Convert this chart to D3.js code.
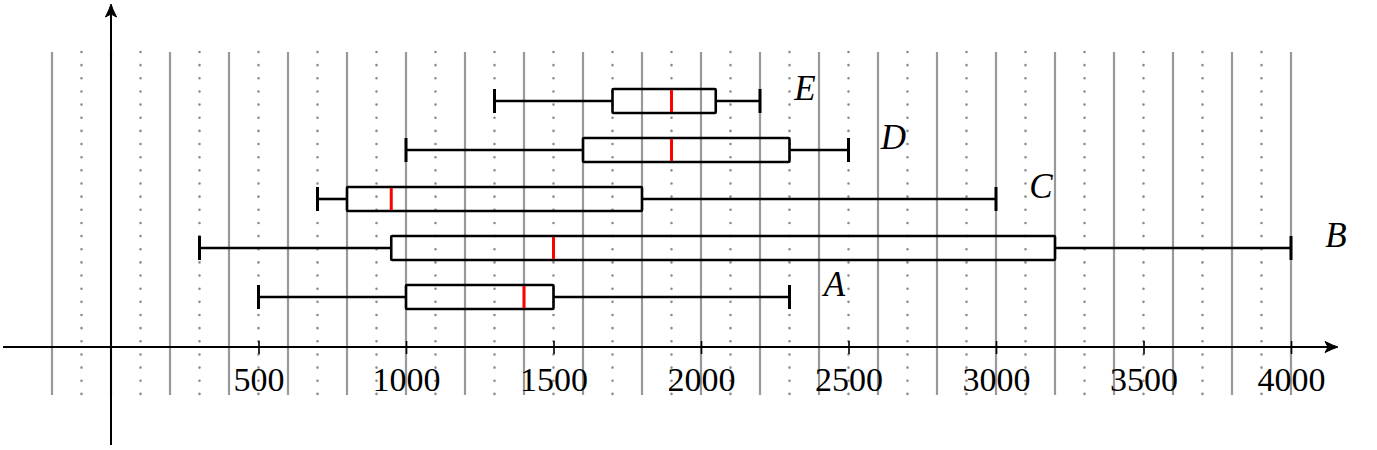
<!DOCTYPE html>
<html>
<head>
<meta charset="utf-8">
<script src="https://cdn.jsdelivr.net/npm/d3@7"></script>
<style>
  html, body { margin: 0; padding: 0; background: #fff; }
  svg { display: block; }
</style>
</head>
<body>
<svg id="chart" width="1377" height="450"></svg>
<script>
// ---- data ----
const categories = ["A", "B", "C", "D", "E"];
const whiskerLow  = [500, 300, 700, 1000, 1300];
const boxLow      = [1000, 950, 800, 1600, 1700];
const medians     = [1400, 1500, 950, 1900, 1900];
const boxHigh     = [1500, 3200, 1800, 2300, 2050];
const whiskerHigh = [2300, 4000, 3000, 2500, 2200];
const tickValues  = [500, 1000, 1500, 2000, 2500, 3000, 3500, 4000];
const gridMin = -200, gridMax = 4000, gridStep = 100;

// ---- layout ----
const svg = d3.select("#chart");
const x = d3.scaleLinear().domain([0, 4000]).range([111, 1291]);
const y = d3.scalePoint().domain(categories).range([297, 101]);
const axisY = 347;
const gridTop = 52, gridBottom = 395;
const boxH = 24;
const font = "'Liberation Serif', 'Times New Roman', serif";

// ---- grid ----
const gridVals = d3.range(gridMin, gridMax + 1, gridStep);
const g = svg.append("g");
gridVals.forEach(v => {
  const solid = (Math.round(v / 100) % 2 === 0);
  const ln = g.append("line")
    .attr("x1", x(v)).attr("x2", x(v))
    .attr("y1", gridTop).attr("y2", gridBottom);
  if (solid) {
    ln.attr("stroke", "#999").attr("stroke-width", 2.2);
  } else {
    ln.attr("stroke", "#8c8c8c").attr("stroke-width", 2.6)
      .attr("stroke-linecap", "round")
      .attr("stroke-dasharray", "0 13.15");
  }
});

// ---- axes ----
const ax = svg.append("g").attr("stroke", "#000").attr("stroke-width", 2);
ax.append("line").attr("x1", 3).attr("x2", 1333).attr("y1", axisY).attr("y2", axisY);
ax.append("line").attr("x1", x(0)).attr("x2", x(0)).attr("y1", 445).attr("y2", 8);

function arrow(tx, ty, angle) {
  svg.append("path")
    .attr("d", "M0,0 Q-5,-1.5 -13,-5.5 L-10,0 L-13,5.5 Q-5,1.5 0,0 Z")
    .attr("transform", `translate(${tx},${ty}) rotate(${angle})`)
    .attr("fill", "#000").attr("stroke", "#000").attr("stroke-width", 1)
    .attr("stroke-linejoin", "round");
}
arrow(1338, axisY, 0);
arrow(x(0), 4, -90);

// ticks
const xAxis = d3.axisBottom(x).tickValues(tickValues).tickSize(0).tickFormat(d3.format("d"));
const axG = svg.append("g").attr("transform", `translate(0,${axisY})`).call(xAxis);
axG.select(".domain").remove();
axG.selectAll(".tick line").remove();
axG.selectAll(".tick").append("line")
  .attr("y1", -6).attr("y2", 7)
  .attr("stroke", "#000").attr("stroke-width", 1.6);
axG.selectAll(".tick text")
  .attr("y", 44).attr("dy", null)
  .attr("font-family", font).attr("font-size", 34)
  .attr("fill", "#000");

// ---- boxplots ----
const bp = svg.append("g");
categories.forEach((c, i) => {
  const cy = y(c);
  const s = bp.append("g").attr("stroke", "#000").attr("stroke-width", 2.6)
    .attr("fill", "none").attr("stroke-linejoin", "round");
  // whiskers
  s.append("line").attr("x1", x(whiskerLow[i])).attr("x2", x(boxLow[i])).attr("y1", cy).attr("y2", cy);
  s.append("line").attr("x1", x(boxHigh[i])).attr("x2", x(whiskerHigh[i])).attr("y1", cy).attr("y2", cy);
  // caps
  s.append("line").attr("x1", x(whiskerLow[i])).attr("x2", x(whiskerLow[i]))
    .attr("y1", cy - boxH / 2).attr("y2", cy + boxH / 2).attr("stroke-width", 3);
  s.append("line").attr("x1", x(whiskerHigh[i])).attr("x2", x(whiskerHigh[i]))
    .attr("y1", cy - boxH / 2).attr("y2", cy + boxH / 2).attr("stroke-width", 3);
  // box
  s.append("rect")
    .attr("x", x(boxLow[i])).attr("y", cy - boxH / 2)
    .attr("width", x(boxHigh[i]) - x(boxLow[i])).attr("height", boxH)
    .attr("rx", 1);
  // median
  bp.append("line").attr("x1", x(medians[i])).attr("x2", x(medians[i]))
    .attr("y1", cy - boxH / 2 + 1).attr("y2", cy + boxH / 2 - 1)
    .attr("stroke", "#ff0000").attr("stroke-width", 3);
  // label
  bp.append("text")
    .attr("x", x(whiskerHigh[i]) + 45).attr("y", cy - 1)
    .attr("text-anchor", "middle")
    .attr("font-family", font).attr("font-style", "italic").attr("font-size", 35)
    .attr("fill", "#000")
    .text(c);
});
</script>
</body>
</html>
